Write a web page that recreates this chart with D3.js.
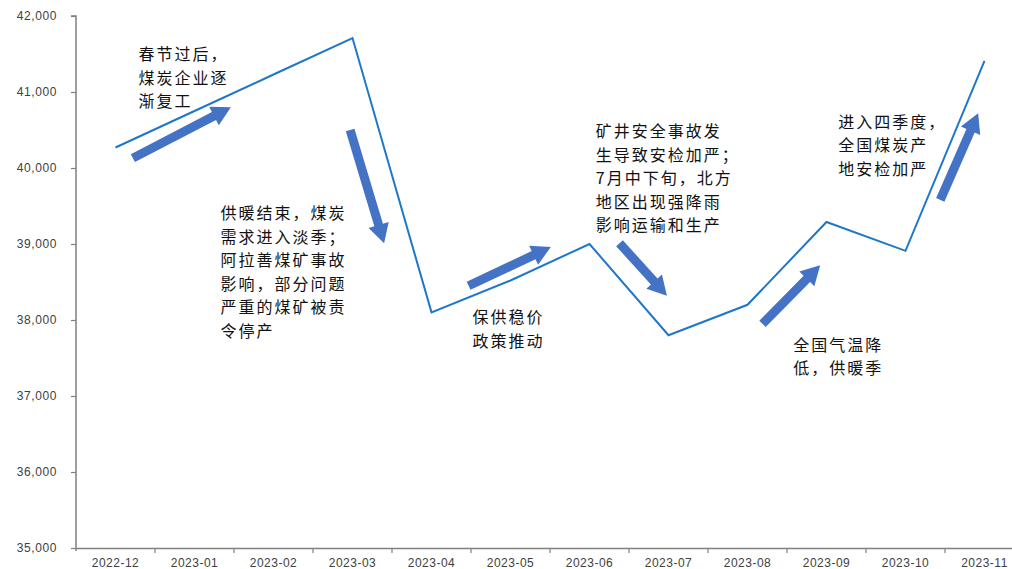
<!DOCTYPE html>
<html>
<head>
<meta charset="utf-8">
<script src="https://cdn.jsdelivr.net/npm/d3@7"></script>
<style>
  html, body { margin: 0; padding: 0; background: #fff; }
  svg { display: block; }
</style>
</head>
<body>
<svg id="chart" width="1012" height="569"></svg>
<script>
// Monthly series
const months = ["2022-12","2023-01","2023-02","2023-03","2023-04","2023-05",
                "2023-06","2023-07","2023-08","2023-09","2023-10","2023-11"];
const values = [40270, 40750, 41230, 41710, 38100, 38520,
                39000, 37800, 38200, 39290, 38910, 41410];
const yTicks = [35000, 36000, 37000, 38000, 39000, 40000, 41000, 42000];

// Trend arrows: [fromIndex, fromValue, toIndex, toValue]
const arrows = [
  [0.22, 40130, 1.46, 40800],
  [2.97, 40500, 3.40, 39010],
  [4.47, 38450, 5.51, 38960],
  [6.38, 39010, 6.98, 38320],
  [8.19, 37950, 8.92, 38720],
  [10.44, 39580, 10.92, 40720]
];

// Notes: [index, value of first line, lines]
const notes = [
  [0.29, 41510, ["春节过后，", "煤炭企业逐", "渐复工"]],
  [1.33, 39420, ["供暖结束，煤炭", "需求进入淡季；", "阿拉善煤矿事故", "影响，部分问题", "严重的煤矿被责", "令停产"]],
  [4.52, 38050, ["保供稳价", "政策推动"]],
  [6.08, 40500, ["矿井安全事故发", "生导致安检加严；", "7月中下旬，北方", "地区出现强降雨", "影响运输和生产"]],
  [8.58, 37690, ["全国气温降", "低，供暖季"]],
  [9.15, 40620, ["进入四季度，", "全国煤炭产", "地安检加严"]]
];

const svg = d3.select("#chart");
const plotLeft = 76, plotRight = 1024, plotTop = 16, plotBottom = 548;

const x = d3.scaleBand().domain(months).range([plotLeft, plotRight]);
const y = d3.scaleLinear().domain([35000, 42000]).range([plotBottom, plotTop]);
// continuous position by category index (band centres)
const xi = i => x(months[0]) + x.bandwidth() / 2 + i * x.step();

const axisColor = "#808080";
const labelFont = "'Liberation Sans', Arial, sans-serif";

// Y axis
const yAxis = svg.append("g")
  .attr("transform", `translate(${plotLeft},0)`)
  .call(d3.axisLeft(y).tickValues(yTicks).tickSize(5).tickPadding(14)
        .tickFormat(d3.format(",")));
yAxis.select(".domain").attr("stroke", axisColor).attr("stroke-width", 1.5)
  .attr("d", `M-5,${plotTop}H0V${plotBottom + 3}`);
yAxis.selectAll(".tick line").attr("stroke", axisColor).attr("stroke-width", 1.2);
yAxis.selectAll(".tick text").attr("fill", "#404040")
  .style("font-family", labelFont).style("font-size", "12px")
  .style("letter-spacing", "0.6px");

// X axis
const xAxis = svg.append("g")
  .attr("transform", `translate(0,${plotBottom})`)
  .call(d3.axisBottom(x).tickSize(0).tickPadding(10));
xAxis.select(".domain").attr("stroke", axisColor).attr("stroke-width", 1.5);
xAxis.selectAll(".tick text").attr("fill", "#404040")
  .style("font-family", labelFont).style("font-size", "12px")
  .style("letter-spacing", "0.5px");
// tick marks at band boundaries
xAxis.selectAll(".bound").data(months.slice(1)).enter().append("line")
  .attr("class", "bound")
  .attr("x1", d => x(d)).attr("x2", d => x(d))
  .attr("y1", 0).attr("y2", 5)
  .attr("stroke", axisColor).attr("stroke-width", 1.2);

// Series line
const line = d3.line()
  .x((d, i) => x(months[i]) + x.bandwidth() / 2)
  .y(d => y(d));
svg.append("path")
  .datum(values)
  .attr("d", line)
  .attr("fill", "none")
  .attr("stroke", "#1f77c9")
  .attr("stroke-width", 2)
  .attr("stroke-linejoin", "miter");

// Block arrows
function arrowPath(x1, y1, x2, y2) {
  const dx = x2 - x1, dy = y2 - y1;
  const len = Math.hypot(dx, dy);
  const ux = dx / len, uy = dy / len;
  const px = -uy, py = ux;
  const shaft = 4.5, head = 10.5, headLen = 19;
  const bx = x2 - ux * headLen, by = y2 - uy * headLen;
  const pts = [
    [x1 + px * shaft, y1 + py * shaft],
    [bx + px * shaft, by + py * shaft],
    [bx + px * head, by + py * head],
    [x2, y2],
    [bx - px * head, by - py * head],
    [bx - px * shaft, by - py * shaft],
    [x1 - px * shaft, y1 - py * shaft]
  ];
  return "M" + pts.map(p => p.join(",")).join("L") + "Z";
}
svg.append("g").selectAll("path").data(arrows).enter().append("path")
  .attr("d", d => arrowPath(xi(d[0]), y(d[1]), xi(d[2]), y(d[3])))
  .attr("fill", "#4472c4");

// Notes
const noteG = svg.append("g")
  .style("font-family", "'Noto Sans CJK SC', sans-serif")
  .style("font-size", "16px")
  .style("letter-spacing", "2px")
  .attr("fill", "#111");
notes.forEach(([i, v, lines]) => {
  const t = noteG.append("text")
    .attr("x", xi(i)).attr("y", y(v))
    .attr("dominant-baseline", "central");
  lines.forEach((s, k) => {
    t.append("tspan").attr("x", xi(i)).attr("dy", k === 0 ? 0 : 23.5).text(s);
  });
});
</script>
</body>
</html>
